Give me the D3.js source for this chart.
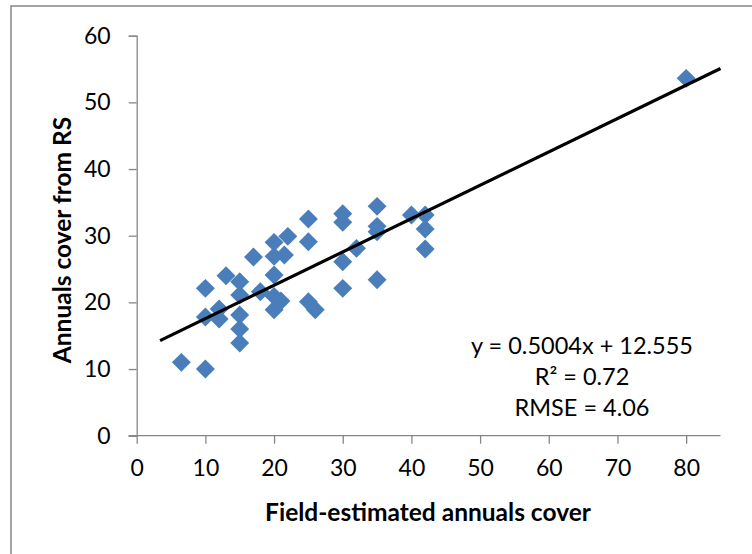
<!DOCTYPE html>
<html>
<head>
<meta charset="utf-8">
<script src="https://cdn.jsdelivr.net/npm/d3@7"></script>
<style>
  html, body { margin: 0; padding: 0; background: #fff; }
  svg { display: block; }
  text { font-family: Lato, "Open Sans", sans-serif; fill: #000; }
</style>
</head>
<body>
<svg id="chart" width="752" height="554"></svg>
<script>
// Field-estimated annuals cover (x) vs. annuals cover from remote sensing (y)
const fieldCover = [6.5, 10, 10, 10, 12, 12, 13, 15, 15, 15, 15, 15, 17, 18, 20, 20, 20, 20, 20, 21,
                    21.5, 22, 25, 25, 25, 26, 30, 30, 30, 30, 32, 35, 35, 35, 35, 40, 42, 42, 42, 80];
const rsCover    = [11, 10, 22.1, 17.8, 19, 17.5, 24, 23.1, 21.1, 18.1, 16, 13.9, 26.8, 21.6, 29, 26.9, 24.1, 20.9, 18.9, 20.2,
                    27.1, 29.9, 32.5, 29.1, 20.1, 18.9, 33.3, 32, 26.1, 22.1, 28.1, 34.4, 31.4, 30.6, 23.4, 33.1, 33.1, 31, 28, 53.6];

// Linear fit reported on the chart
const slope = 0.5004;
const intercept = 12.555;
const fitRange = [3.4, 85];
const statLines = ["y = 0.5004x + 12.555", "R² = 0.72", "RMSE = 4.06"];

const xTicks = [0, 10, 20, 30, 40, 50, 60, 70, 80];
const yTicks = [0, 10, 20, 30, 40, 50, 60];
const xTitle = "Field-estimated annuals cover";
const yTitle = "Annuals cover from RS";

const svg = d3.select("#chart");
const axisColor = "#868686";

// outer chart frame
svg.append("rect")
  .attr("x", 11).attr("y", 6)
  .attr("width", 760).attr("height", 560)
  .attr("fill", "none").attr("stroke", axisColor).attr("stroke-width", 1.5);

const x = d3.scaleLinear().domain([0, 85]).range([136.7, 720.5]);
const y = d3.scaleLinear().domain([0, 60]).range([435.7, 35.7]);

// y axis
const gy = svg.append("g")
  .attr("transform", `translate(${x(0)},0)`)
  .call(d3.axisLeft(y).tickValues(yTicks).tickSize(8).tickPadding(18).tickFormat(d3.format("d")));
// x axis
const gx = svg.append("g")
  .attr("transform", `translate(0,${y(0)})`)
  .call(d3.axisBottom(x).tickValues(xTicks).tickSize(8).tickPadding(16).tickFormat(d3.format("d")));

[gx, gy].forEach(g => {
  g.select(".domain").attr("stroke", axisColor).attr("stroke-width", 1.3);
  g.selectAll(".tick line").attr("stroke", axisColor).attr("stroke-width", 1.3);
  g.selectAll(".tick text").attr("font-size", 23).attr("font-family", "Lato, sans-serif").attr("fill", "#000");
});
gx.select(".domain").attr("d", `M${x(0) - 8},0H${x(85)}`);

// data markers (diamonds: squares turned 45°)
svg.append("g").selectAll("path")
  .data(fieldCover.map((v, i) => [v, rsCover[i]]))
  .join("path")
  .attr("d", d3.symbol().type(d3.symbolSquare).size(180))
  .attr("transform", d => `translate(${x(d[0])},${y(d[1])}) rotate(45)`)
  .attr("fill", "#4a7ebb");

// regression line
const line = d3.line().x(d => x(d)).y(d => y(slope * d + intercept));
svg.append("path")
  .datum(fitRange)
  .attr("d", line)
  .attr("fill", "none")
  .attr("stroke", "#000")
  .attr("stroke-width", 3.2);

// fit statistics
svg.append("g").selectAll("text")
  .data(statLines)
  .join("text")
  .attr("x", 582)
  .attr("y", (d, i) => 346 + i * 31)
  .attr("dy", "0.35em")
  .attr("text-anchor", "middle")
  .attr("font-size", 23.5)
  .text(d => d);

// axis titles
svg.append("text")
  .attr("x", 428).attr("y", 512)
  .attr("dy", "0.35em")
  .attr("text-anchor", "middle")
  .attr("font-size", 24.5).attr("font-weight", "bold")
  .text(xTitle);

svg.append("text")
  .attr("transform", "translate(62,240) rotate(-90)")
  .attr("dy", "0.35em")
  .attr("text-anchor", "middle")
  .attr("font-size", 24.5).attr("font-weight", "bold")
  .text(yTitle);
</script>
</body>
</html>
